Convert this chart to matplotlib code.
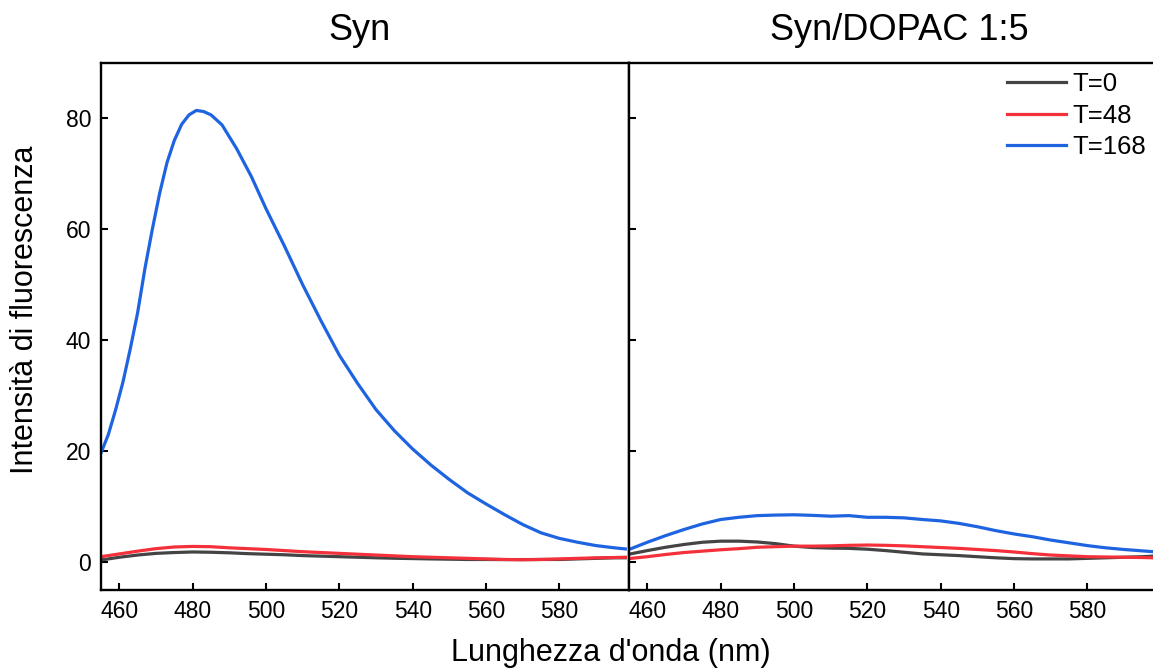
import numpy as np
import matplotlib
matplotlib.use('Agg')
matplotlib.rcParams['font.family'] = ['Liberation Sans', 'DejaVu Sans']
import matplotlib.pyplot as plt

# wavelengths (nm) and fluorescence
wl_syn = [455, 457, 459, 461, 463, 465, 467, 469, 471, 473, 475, 477, 479, 481,
          483, 485, 488, 492, 496, 500, 505, 510, 515, 520, 525, 530, 535, 540,
          545, 550, 555, 560, 565, 570, 575, 580, 585, 590, 595, 598]
syn_t168 = [19.7, 23.0, 27.5, 32.5, 38.5, 45.0, 53.0, 60.0, 66.5, 72.0, 76.0, 78.9,
            80.6, 81.4, 81.2, 80.6, 78.8, 74.5, 69.5, 63.7, 57.0, 50.0, 43.5, 37.3,
            32.2, 27.5, 23.7, 20.4, 17.5, 14.9, 12.5, 10.5, 8.6, 6.8, 5.3, 4.3, 3.6,
            3.0, 2.6, 2.4]

wl_low = [455, 460, 465, 470, 475, 480, 485, 490, 495, 500, 505, 510, 515, 520,
          525, 530, 535, 540, 545, 550, 555, 560, 565, 570, 575, 580, 585, 590,
          595, 598]
syn_t0 = [0.4, 0.9, 1.3, 1.6, 1.75, 1.85, 1.8, 1.7, 1.55, 1.45, 1.35, 1.2, 1.1, 1.0,
          0.9, 0.8, 0.72, 0.66, 0.6, 0.55, 0.5, 0.5, 0.48, 0.48, 0.5, 0.5, 0.6, 0.7,
          0.8, 0.8]
syn_t48 = [1.0, 1.5, 2.0, 2.45, 2.75, 2.85, 2.8, 2.6, 2.45, 2.3, 2.1, 1.9, 1.75, 1.6,
           1.45, 1.3, 1.15, 1.0, 0.9, 0.8, 0.7, 0.6, 0.5, 0.45, 0.5, 0.6, 0.7, 0.8,
           0.85, 0.9]

dop_t0 = [1.45, 2.1, 2.7, 3.2, 3.6, 3.8, 3.8, 3.65, 3.35, 2.9, 2.65, 2.55, 2.5, 2.35,
          2.1, 1.8, 1.5, 1.35, 1.2, 1.0, 0.8, 0.65, 0.6, 0.6, 0.6, 0.7, 0.8, 0.9,
          1.0, 1.1]
dop_t48 = [0.66, 1.0, 1.4, 1.75, 2.0, 2.25, 2.45, 2.7, 2.8, 2.9, 2.9, 2.95, 3.05, 3.1,
           3.05, 2.95, 2.8, 2.65, 2.5, 2.3, 2.1, 1.85, 1.55, 1.3, 1.15, 1.0, 0.95, 0.9,
           0.85, 0.8]
dop_t168 = [2.3, 3.6, 4.8, 5.9, 6.9, 7.7, 8.1, 8.4, 8.5, 8.55, 8.45, 8.3, 8.4, 8.1,
            8.1, 8.0, 7.7, 7.45, 7.0, 6.4, 5.7, 5.1, 4.6, 4.0, 3.5, 3.0, 2.6, 2.3,
            2.05, 1.9]

labels = ['T=0', 'T=48', 'T=168']
colors = ['#444444', '#f4303a', '#1e64e0']

W, H = 1153, 668
fig = plt.figure(figsize=(W / 100, H / 100), dpi=100)

l0, r0, r1 = 101 / W, 629 / W, 1157 / W
b, t = 1 - 590 / H, 1 - 62.7 / H
ax1 = fig.add_axes([l0, b, r0 - l0, t - b])
ax2 = fig.add_axes([r0, b, r1 - r0, t - b])

lw = 2.3
ax1.plot(wl_low, syn_t0, c=colors[0], lw=lw)
ax1.plot(wl_low, syn_t48, c=colors[1], lw=lw)
ax1.plot(wl_syn, syn_t168, c=colors[2], lw=lw)

ax2.plot(wl_low, dop_t0, c=colors[0], lw=lw, label=labels[0])
ax2.plot(wl_low, dop_t48, c=colors[1], lw=lw, label=labels[1])
ax2.plot(wl_low, dop_t168, c=colors[2], lw=lw, label=labels[2])

for ax in (ax1, ax2):
    ax.set_xlim(455, 599)
    ax.set_ylim(-5, 90)
    ax.set_xticks([460, 480, 500, 520, 540, 560, 580])
    ax.set_yticks([0, 20, 40, 60, 80])
    ax.tick_params(direction='in', length=5, width=1.5, labelsize=16.5,
                   top=False, right=False, pad=7)
    for s in ax.spines.values():
        s.set_linewidth(1.7)
ax2.spines['right'].set_visible(False)
ax2.tick_params(labelleft=False)

fig.text(360 / W, 1 - 31 / H, 'Syn', fontsize=26, ha='center', va='center')
fig.text(899 / W, 1 - 31 / H, 'Syn/DOPAC 1:5', fontsize=26, ha='center', va='center')
fig.text(611 / W, 1 - 653 / H, "Lunghezza d'onda (nm)", fontsize=22, ha='center', va='center')
fig.text(25 / W, 1 - 310 / H, 'Intensità di fluorescenza', fontsize=22,
         rotation=90, ha='center', va='center')

ax2.legend(loc='upper left', bbox_to_anchor=(1007 / W, 1 - 72 / H),
           bbox_transform=fig.transFigure, frameon=False, fontsize=18.5,
           handlelength=2.3, handletextpad=0.25, labelspacing=0.3,
           borderpad=0, borderaxespad=0)

plt.savefig('out.png', dpi=100)
